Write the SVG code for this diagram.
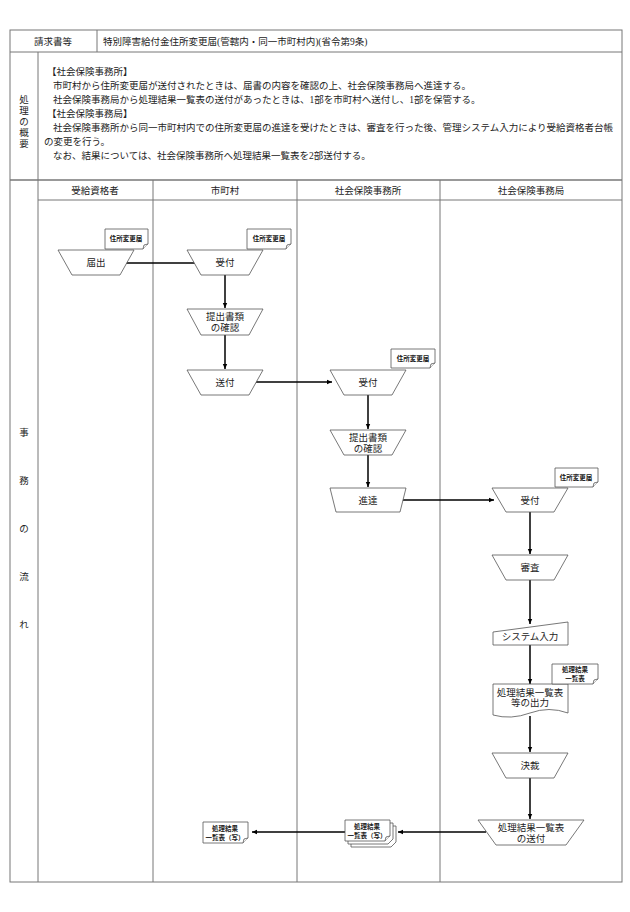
<svg xmlns="http://www.w3.org/2000/svg" width="630" height="912" viewBox="0 0 630 912">
<style>
text{font-family:"Liberation Serif","Noto Sans CJK JP",serif;font-size:9.5px;fill:#222}
.c{text-anchor:middle}
.tag{font-family:"Noto Sans CJK JP",sans-serif;font-size:6.5px;font-weight:bold;text-anchor:middle}
.g{stroke:#777;stroke-width:1;fill:none}
.s{fill:#fff;stroke:#555;stroke-width:0.8}
.e{stroke:#000;stroke-width:1.5;fill:none;marker-end:url(#a)}
</style>
<defs>
<marker id="a" markerWidth="6" markerHeight="6" refX="5" refY="3" orient="auto" markerUnits="userSpaceOnUse"><path d="M0,0.8L5,3L0,5.2z" fill="#000"/></marker>
</defs>
<rect width="630" height="912" fill="#fff"/>
<g id="grid" class="g">
<rect x="10" y="30" width="612" height="852"/>
<line x1="10" y1="52" x2="622" y2="52"/>
<line x1="97" y1="30" x2="97" y2="52"/>
<line x1="38" y1="52" x2="38" y2="180"/>
<line x1="10" y1="180" x2="622" y2="180" stroke-width="1.5"/>
<line x1="38" y1="180" x2="38" y2="882"/>
<line x1="38" y1="200" x2="622" y2="200"/>
<line x1="153" y1="180" x2="153" y2="882"/>
<line x1="297" y1="180" x2="297" y2="882"/>
<line x1="440" y1="180" x2="440" y2="882"/>
</g>
<g id="texts">
<text x="53" y="45" class="c">請求書等</text>
<text x="103" y="45">特別障害給付金住所変更届(管轄内・同一市町村内)(省令第9条)</text>
<text x="24" y="103" class="c">処</text><text x="24" y="114" class="c">理</text><text x="24" y="125" class="c">の</text><text x="24" y="136" class="c">概</text><text x="24" y="147" class="c">要</text>
<text x="47" y="75">【社会保険事務所】</text>
<text x="53" y="89">市町村から住所変更届が送付されたときは、届書の内容を確認の上、社会保険事務局へ進達する。</text>
<text x="53" y="103">社会保険事務局から処理結果一覧表の送付があったときは、1部を市町村へ送付し、1部を保管する。</text>
<text x="47" y="117">【社会保険事務局】</text>
<text x="53" y="131">社会保険事務所から同一市町村内での住所変更届の進達を受けたときは、審査を行った後、管理システム入力により受給資格者台帳</text>
<text x="44" y="145">の変更を行う。</text>
<text x="53" y="159">なお、結果については、社会保険事務所へ処理結果一覧表を2部送付する。</text>
<text x="95" y="194" class="c">受給資格者</text>
<text x="225" y="194" class="c">市町村</text>
<text x="368" y="194" class="c">社会保険事務所</text>
<text x="531" y="194" class="c">社会保険事務局</text>
<text x="24" y="436" class="c">事</text><text x="24" y="484" class="c">務</text><text x="24" y="532" class="c">の</text><text x="24" y="580" class="c">流</text><text x="24" y="628" class="c">れ</text>
</g>
<g id="connectors">
<path class="e" d="M126,263H204"/>
<path class="e" d="M225,275V308"/>
<path class="e" d="M225,335V369"/>
<path class="e" d="M256,382H332"/>
<path class="e" d="M368,395V429"/>
<path class="e" d="M368,455V487"/>
<path class="e" d="M402,500H494"/>
<path class="e" d="M530,512V554"/>
<path class="e" d="M530,580V624"/>
<path class="e" d="M530,645V684"/>
<path class="e" d="M530,716V752"/>
<path class="e" d="M530,778V819"/>
<path class="e" d="M486,832H398"/>
<path class="e" d="M345,832H252"/>
</g>
<g id="n1"><path class="s" d="M58,250H134L120,275H72z"/><text x="96" y="266" class="c">届出</text></g>
<g id="n2"><path class="s" d="M187,250H263L249,275H201z"/><text x="225" y="266" class="c">受付</text></g>
<g id="n3"><path class="s" d="M187,309H263L249,335H201z"/><text x="225" y="320" class="c">提出書類</text><text x="225" y="331" class="c">の確認</text></g>
<g id="n4"><path class="s" d="M187,370H263L249,395H201z"/><text x="225" y="386" class="c">送付</text></g>
<g id="n5"><path class="s" d="M330,370H406L392,395H344z"/><text x="368" y="386" class="c">受付</text></g>
<g id="n6"><path class="s" d="M330,430H406L392,455H344z"/><text x="368" y="441" class="c">提出書類</text><text x="368" y="452" class="c">の確認</text></g>
<g id="n7"><path class="s" d="M330,488H406L400,512H336z"/><text x="368" y="504" class="c">進達</text></g>
<g id="n8"><path class="s" d="M492,488H568L554,512H506z"/><text x="530" y="504" class="c">受付</text></g>
<g id="n9"><path class="s" d="M492,555H568L554,580H506z"/><text x="530" y="571" class="c">審査</text></g>
<g id="n10"><path class="s" d="M493,632L568,622V645H493z"/><text x="530" y="640" class="c">システム入力</text></g>
<g id="n11"><path class="s" d="M493,684H568V713Q549,706 530,713T493,715z"/><text x="530" y="696" class="c">処理結果一覧表</text><text x="530" y="706" class="c">等の出力</text></g>
<g id="n12"><path class="s" d="M492,753H568L554,778H506z"/><text x="530" y="769" class="c">決裁</text></g>
<g id="n13"><path class="s" d="M478,820H584L566,845H496z"/><text x="531" y="831" class="c">処理結果一覧表</text><text x="531" y="842" class="c">の送付</text></g>
<g id="tags">
<g><path class="s" d="M105,229H148V244L143,249H105z"/><path class="s" d="M143,249L144,245L148,244"/><text x="126" y="241" class="tag">住所変更届</text></g>
<g><path class="s" d="M247,229H291V244L286,249H247z"/><path class="s" d="M286,249L287,245L291,244"/><text x="269" y="241" class="tag">住所変更届</text></g>
<g><path class="s" d="M391,349H435V363L430,368H391z"/><path class="s" d="M430,368L431,364L435,363"/><text x="413" y="361" class="tag">住所変更届</text></g>
<g><path class="s" d="M555,468H598V482L593,487H555z"/><path class="s" d="M593,487L594,483L598,482"/><text x="576" y="480" class="tag">住所変更届</text></g>
<g><path class="s" d="M552,664H598V679L593,684H552z"/><path class="s" d="M593,684L594,680L598,679"/><text x="575" y="672" class="tag">処理結果</text><text x="575" y="681" class="tag">一覧表</text></g>
<g><path class="s" d="M203,822H248V838L243,843H203z"/><path class="s" d="M243,843L244,839L248,838"/><text x="225" y="831" class="tag">処理結果</text><text x="225" y="840" class="tag">一覧表（写）</text></g>
<g><path class="s" d="M351,826H396V842L391,847H351z"/><path class="s" d="M348,823H393V839L388,844H348z"/><path class="s" d="M345,820H390V836L385,841H345z"/><path class="s" d="M385,841L386,837L390,836"/><text x="367" y="829" class="tag">処理結果</text><text x="367" y="838" class="tag">一覧表（写）</text></g>
</g>
</svg>
